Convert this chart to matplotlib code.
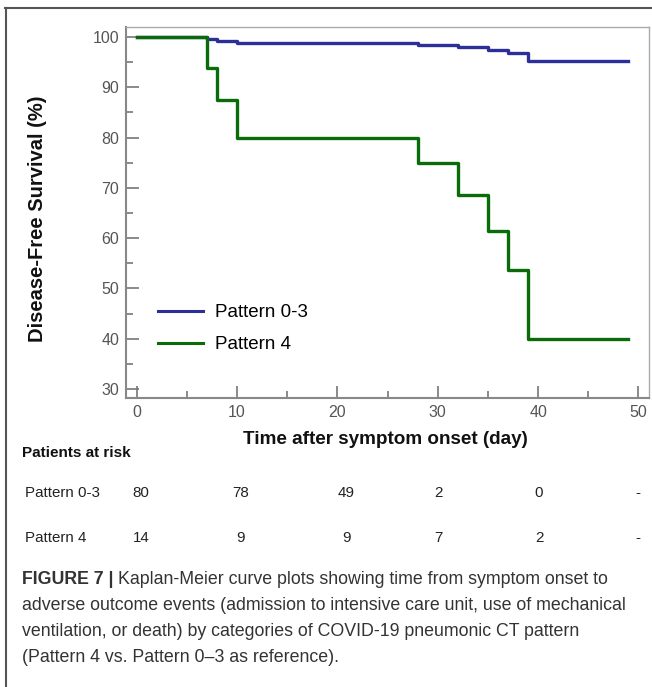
import matplotlib
matplotlib.use('Agg')
import matplotlib.pyplot as plt
import matplotlib.transforms as mtransforms
from matplotlib.lines import Line2D
from matplotlib.text import Annotation
from matplotlib.ticker import MultipleLocator

plt.rcParams['font.family'] = ['Liberation Sans', 'DejaVu Sans']

# Kaplan-Meier step values (day, survival %)
days_03 = [0, 7, 8, 10, 28, 32, 35, 37, 39, 49]
surv_03 = [100, 99.7, 99.3, 98.9, 98.5, 98.1, 97.4, 96.8, 95.2, 95.2]
days_4 = [0, 7, 8, 10, 28, 32, 35, 37, 39, 49]
surv_4 = [100, 93.8, 87.5, 80.0, 75.0, 68.6, 61.4, 53.6, 40.0, 40.0]

# patients at risk table
risk_groups = ['Pattern 0-3', 'Pattern 4']
risk_03 = ['80', '78', '49', '2', '0', '-']
risk_4 = ['14', '9', '9', '7', '2', '-']
risk_cols = [0.45, 10.4, 20.9, 30.1, 40.1, 49.9]   # where the columns sit on the day axis

caption_lines = [
    'Kaplan-Meier curve plots showing time from symptom onset to',
    'adverse outcome events (admission to intensive care unit, use of mechanical',
    'ventilation, or death) by categories of COVID-19 pneumonic CT pattern',
    '(Pattern 4 vs. Pattern 0\u20133 as reference).',
]

W, H = 652, 687
fig = plt.figure(figsize=(W / 100, H / 100), dpi=100)


def fx(px):
    return px / W


def fy(py):
    return 1 - py / H


ax = fig.add_axes([fx(126), fy(398), fx(649) - fx(126), fy(27) - fy(398)])

blue = '#2b2f98'
green = '#0a6b0a'
ax.step(days_03, surv_03, where='post', color=blue, lw=2.4, label='Pattern 0-3')
ax.step(days_4, surv_4, where='post', color=green, lw=2.4, label='Pattern 4')

ax.set_xlim(-1.05, 51.05)
ax.set_ylim(28.2, 102.0)
ax.xaxis.set_major_locator(MultipleLocator(10))
ax.xaxis.set_minor_locator(MultipleLocator(5))
ax.yaxis.set_major_locator(MultipleLocator(10))
ax.yaxis.set_minor_locator(MultipleLocator(5))
ax.tick_params(which='both', direction='in', color='#777777', width=1.2,
               labelcolor='#555555', labelsize=11.5)
ax.tick_params(which='major', length=9, pad=5)
ax.tick_params(which='minor', length=5)

for side in ['left', 'bottom']:
    ax.spines[side].set_color('#888888')
    ax.spines[side].set_linewidth(1.5)
for side in ['top', 'right']:
    ax.spines[side].set_color('#aaaaaa')
    ax.spines[side].set_linewidth(1.0)

ax.set_ylabel('Disease-Free Survival (%)', fontsize=14.5, fontweight='bold', color='#111111')
ax.yaxis.set_label_coords((47 - 126) / 523, (398 - 219) / 371)
ax.set_xlabel('Time after symptom onset (day)', fontsize=13.6, fontweight='bold', color='#111111')
ax.xaxis.set_label_coords((385 - 126) / 523, (398 - 431) / 371)

leg = ax.legend(loc='upper left', bbox_to_anchor=((158 - 126) / 523, (398 - 304) / 371),
                frameon=False, fontsize=13.5, handlelength=2.4, handletextpad=0.62,
                labelspacing=0.8, borderpad=0, borderaxespad=0)
for ln in leg.get_lines():
    ln.set_linewidth(2.2)

# patients at risk table
fig.text(fx(22), fy(453), 'Patients at risk', fontsize=11, fontweight='bold',
         va='center', ha='left', color='#111111')
trans = mtransforms.blended_transform_factory(ax.transData, fig.transFigure)
for label, counts, ypx in [(risk_groups[0], risk_03, 493), (risk_groups[1], risk_4, 538)]:
    fig.text(fx(25), fy(ypx), label, fontsize=10.9, va='center', ha='left', color='#222222')
    for xc, c in zip(risk_cols, counts):
        ax.text(xc, fy(ypx), c, transform=trans, fontsize=10.9, va='center',
                ha='center', color='#222222', clip_on=False)

# caption
cap_color = '#333333'
cap_size = 12.8
first = fig.text(fx(22), fy(580), 'FIGURE 7 | ', fontsize=cap_size, fontweight='bold',
                 va='center', ha='left', color=cap_color)
fig.add_artist(Annotation(caption_lines[0], xy=(1, 0), xycoords=first,
                          va='bottom', ha='left', fontsize=cap_size, color=cap_color))
for i, line in enumerate(caption_lines[1:]):
    fig.text(fx(22), fy(606 + 26 * i), line, fontsize=cap_size, va='center',
             ha='left', color=cap_color)

# outer frame of the figure panel
fig.add_artist(Line2D([fx(5), 1], [fy(8), fy(8)], color='#555555', lw=1.5))
fig.add_artist(Line2D([fx(6), fx(6)], [0, fy(8)], color='#555555', lw=1.5))

fig.savefig('out.png', dpi=100)
